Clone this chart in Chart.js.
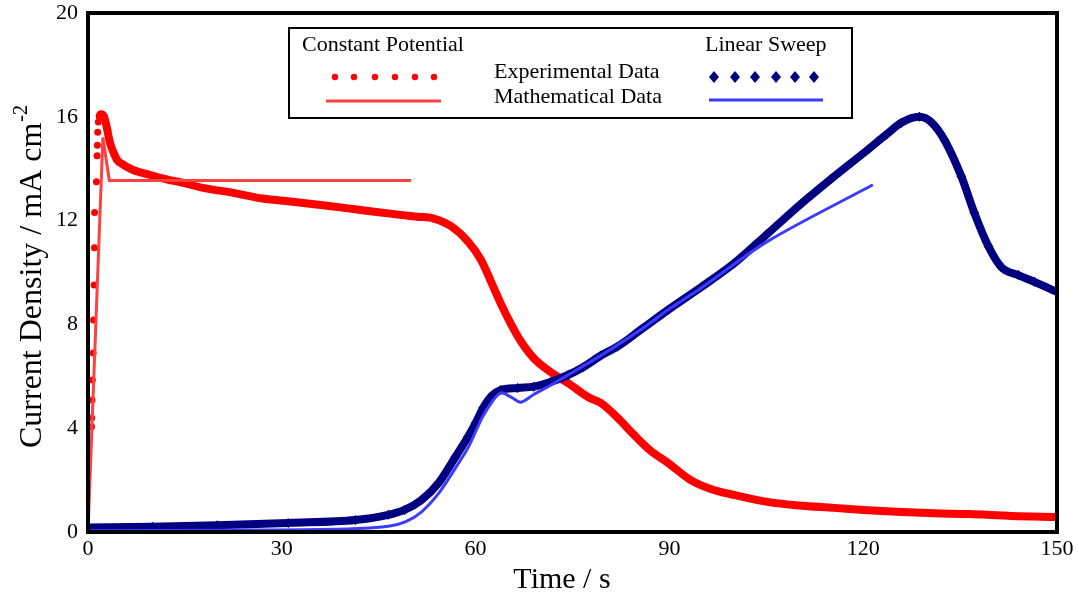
<!DOCTYPE html>
<html>
<head>
<meta charset="utf-8">
<title>Current Density vs Time</title>
<script src="https://cdn.jsdelivr.net/npm/chart.js@4.4.1/dist/chart.umd.min.js"></script>
<style>
  html, body { margin: 0; padding: 0; background: #fff; }
  #c { display: block; }
</style>
</head>
<body>
<canvas id="c" width="1078" height="596"></canvas>
<script>
/* ---- 数据 ---- */
// Constant Potential - experimental
const cpExpT = [0.55, 0.57, 0.62, 0.68, 0.8, 0.85, 0.95, 1.0, 1.02, 1.3, 1.4, 1.45, 1.5, 1.6, 1.75,
    2.0, 2.5, 2.9, 3.4, 4.0, 4.5, 5.5, 7, 9.6, 12, 14.8, 18, 22.5, 27, 32, 36, 40, 44, 48.4, 51, 53.5,
    56.1, 58.8, 60.8, 62.3, 63.9, 65.4, 67, 69, 71.6, 74.3, 77.4, 79.4, 82, 84.5, 87, 89.8, 93.3, 96.5,
    100, 105.2, 110, 115.5, 120, 125.9, 131, 136.3, 143, 150];
const cpExpI = [4.06, 4.39, 5.09, 5.86, 6.9, 8.17, 9.52, 10.95, 12.31, 13.5, 14.5, 14.9, 15.4, 15.8, 16.0,
    16.1, 16.0, 15.6, 15.0, 14.6, 14.34, 14.15, 13.95, 13.76, 13.6, 13.45, 13.25, 13.07, 12.85, 12.72, 12.6, 12.48, 12.35, 12.22, 12.15, 12.08,
    11.8, 11.2, 10.5, 9.7, 8.8, 8.05, 7.35, 6.7, 6.17, 5.74, 5.2, 4.97, 4.4, 3.75, 3.15, 2.66, 2.0, 1.65,
    1.43, 1.16, 1.02, 0.93, 0.85, 0.77, 0.72, 0.69, 0.62, 0.58];
const cpDotCount = 15;   // 起始上升段只画点

// Constant Potential - mathematical
const cpModT = [0, 2.3, 3.3, 50];
const cpModI = [0, 15.2, 13.55, 13.55];

// Linear Sweep - experimental
const lsExpT = [0, 10, 20, 31, 41.4, 46.5, 49, 51.6, 54.3, 56.9, 58.8, 60, 61.2, 62.5, 63.9, 66.5, 69,
    71.6, 74.3, 76.7, 79.4, 82, 85.6, 89.8, 95, 100, 105, 110.4, 115, 120.8, 123.5, 125.9, 128.7, 130.5,
    132.6, 135.2, 137.2, 139.4, 141.4, 144, 146.5, 150];
const lsExpI = [0.17, 0.2, 0.26, 0.35, 0.46, 0.66, 0.85, 1.23, 1.9, 2.9, 3.66, 4.2, 4.8, 5.25, 5.47, 5.55, 5.6,
    5.78, 6.05, 6.36, 6.8, 7.15, 7.8, 8.56, 9.45, 10.35, 11.45, 12.65, 13.6, 14.75, 15.3, 15.77, 16.0, 15.8,
    15.1, 13.7, 12.3, 11.0, 10.2, 9.9, 9.64, 9.25];

// Linear Sweep - mathematical
const lsModT = [0, 20, 40, 46.5, 49.1, 51.6, 54.3, 56.9, 58.9, 61, 62.5, 63.9, 65.5, 67, 69, 71.2, 74.3,
    79.4, 85.6, 89.8, 94.9, 105.2, 121.5];
const lsModI = [0.05, 0.07, 0.12, 0.22, 0.39, 0.77, 1.5, 2.47, 3.28, 4.4, 5.0, 5.36, 5.2, 5.0, 5.3, 5.6, 6.05,
    6.8, 7.8, 8.56, 9.4, 11.2, 13.38];

const xTicks = [0, 30, 60, 90, 120, 150];
const yTicks = [0, 4, 8, 12, 16, 20];

const SERIF = '"Liberation Serif", "Times New Roman", serif';
const RED = '#ff0000', RED_LINE = '#ff4040', NAVY = '#000080', BLUE_LINE = '#3c3cff';

const pts = (xs, ys) => xs.map((x, i) => ({ x, y: ys[i] }));

/* 边框、图例、坐标轴标题 */
const decorPlugin = {
    id: 'decor',
    afterDraw(chart) {
        const ctx = chart.ctx;
        const a = chart.chartArea;
        ctx.save();
        // 外框
        ctx.strokeStyle = '#000';
        ctx.lineWidth = 4;
        ctx.strokeRect(a.left, a.top, a.right - a.left, a.bottom - a.top);

        // 图例框
        ctx.lineWidth = 2;
        ctx.fillStyle = '#fff';
        ctx.fillRect(289, 28, 563, 90);
        ctx.strokeRect(289, 28, 563, 90);

        ctx.fillStyle = '#000';
        ctx.font = '22px ' + SERIF;
        ctx.textBaseline = 'middle';
        ctx.textAlign = 'left';
        ctx.fillText('Constant Potential', 302, 45);
        ctx.fillText('Linear Sweep', 705, 45);
        ctx.fillText('Experimental Data', 494, 72);
        ctx.fillText('Mathematical Data', 494, 97);

        ctx.fillStyle = RED;
        [335, 354, 375, 395, 415, 434].forEach(x => {
            ctx.beginPath();
            ctx.arc(x, 77, 3.2, 0, Math.PI * 2);
            ctx.fill();
        });
        ctx.fillStyle = NAVY;
        [714, 735, 755, 776, 795, 814].forEach(x => {
            ctx.beginPath();
            ctx.moveTo(x, 71); ctx.lineTo(x + 5, 77); ctx.lineTo(x, 83); ctx.lineTo(x - 5, 77);
            ctx.closePath();
            ctx.fill();
        });
        ctx.lineWidth = 3;
        ctx.strokeStyle = RED_LINE;
        ctx.beginPath(); ctx.moveTo(326, 101); ctx.lineTo(441, 101); ctx.stroke();
        ctx.strokeStyle = BLUE_LINE;
        ctx.beginPath(); ctx.moveTo(709, 100); ctx.lineTo(823, 100); ctx.stroke();

        // x 轴标题
        ctx.fillStyle = '#000';
        ctx.font = '30px ' + SERIF;
        ctx.textAlign = 'center';
        ctx.textBaseline = 'alphabetic';
        ctx.fillText('Time / s', 562, 588);

        // y 轴标题（带上标）
        ctx.font = '32px ' + SERIF;
        ctx.translate(41, 448);
        ctx.rotate(-Math.PI / 2);
        ctx.textAlign = 'left';
        const main = 'Current Density / mA cm';
        ctx.fillText(main, 0, 0);
        const w = ctx.measureText(main).width;
        ctx.font = '20px ' + SERIF;
        ctx.fillText('-2', w + 1, -14);
        ctx.restore();
    }
};

new Chart(document.getElementById('c'), {
    type: 'line',
    data: {
        datasets: [
            {
                label: 'Linear Sweep - Mathematical Data',
                data: pts(lsModT, lsModI),
                borderColor: BLUE_LINE,
                borderWidth: 3,
                pointRadius: 0,
                tension: 0.3
            },
            {
                label: 'Constant Potential - Mathematical Data',
                data: pts(cpModT, cpModI),
                borderColor: RED_LINE,
                borderWidth: 3,
                pointRadius: 0,
                tension: 0
            },
            {
                label: 'Linear Sweep - Experimental Data',
                data: pts(lsExpT, lsExpI),
                borderColor: NAVY,
                backgroundColor: NAVY,
                borderWidth: 8,
                pointStyle: 'rectRot',
                pointRadius: 5,
                pointBorderWidth: 0,
                cubicInterpolationMode: 'monotone'
            },
            {
                label: 'Constant Potential - Experimental Data',
                data: pts(cpExpT, cpExpI),
                borderColor: RED,
                backgroundColor: RED,
                borderWidth: 8,
                pointStyle: 'circle',
                pointRadius: 3.5,
                pointBorderWidth: 0,
                cubicInterpolationMode: 'monotone',
                segment: {
                    borderColor: c => c.p1DataIndex < cpDotCount ? 'rgba(0,0,0,0)' : undefined
                }
            }
        ]
    },
    options: {
        responsive: false,
        animation: false,
        layout: { padding: { top: 13, right: 21, left: 0, bottom: 0 } },
        plugins: {
            legend: { display: false },
            tooltip: { enabled: false }
        },
        scales: {
            x: {
                type: 'linear',
                min: 0, max: 150,
                afterFit: s => { s.height = 64; s.paddingLeft = 0; s.paddingRight = 0; },
                afterBuildTicks: s => { s.ticks = xTicks.map(v => ({ value: v })); },
                grid: { display: false, drawTicks: false },
                border: { display: false },
                ticks: { color: '#000', font: { family: SERIF, size: 22 }, padding: 4, maxRotation: 0 }
            },
            y: {
                type: 'linear',
                min: 0, max: 20,
                afterFit: s => { s.width = 88; s.paddingTop = 0; s.paddingBottom = 0; },
                afterBuildTicks: s => { s.ticks = yTicks.map(v => ({ value: v })); },
                grid: { display: false, drawTicks: false },
                border: { display: false },
                ticks: { color: '#000', font: { family: SERIF, size: 22 }, padding: 10 }
            }
        }
    },
    plugins: [decorPlugin]
});
</script>
</body>
</html>
